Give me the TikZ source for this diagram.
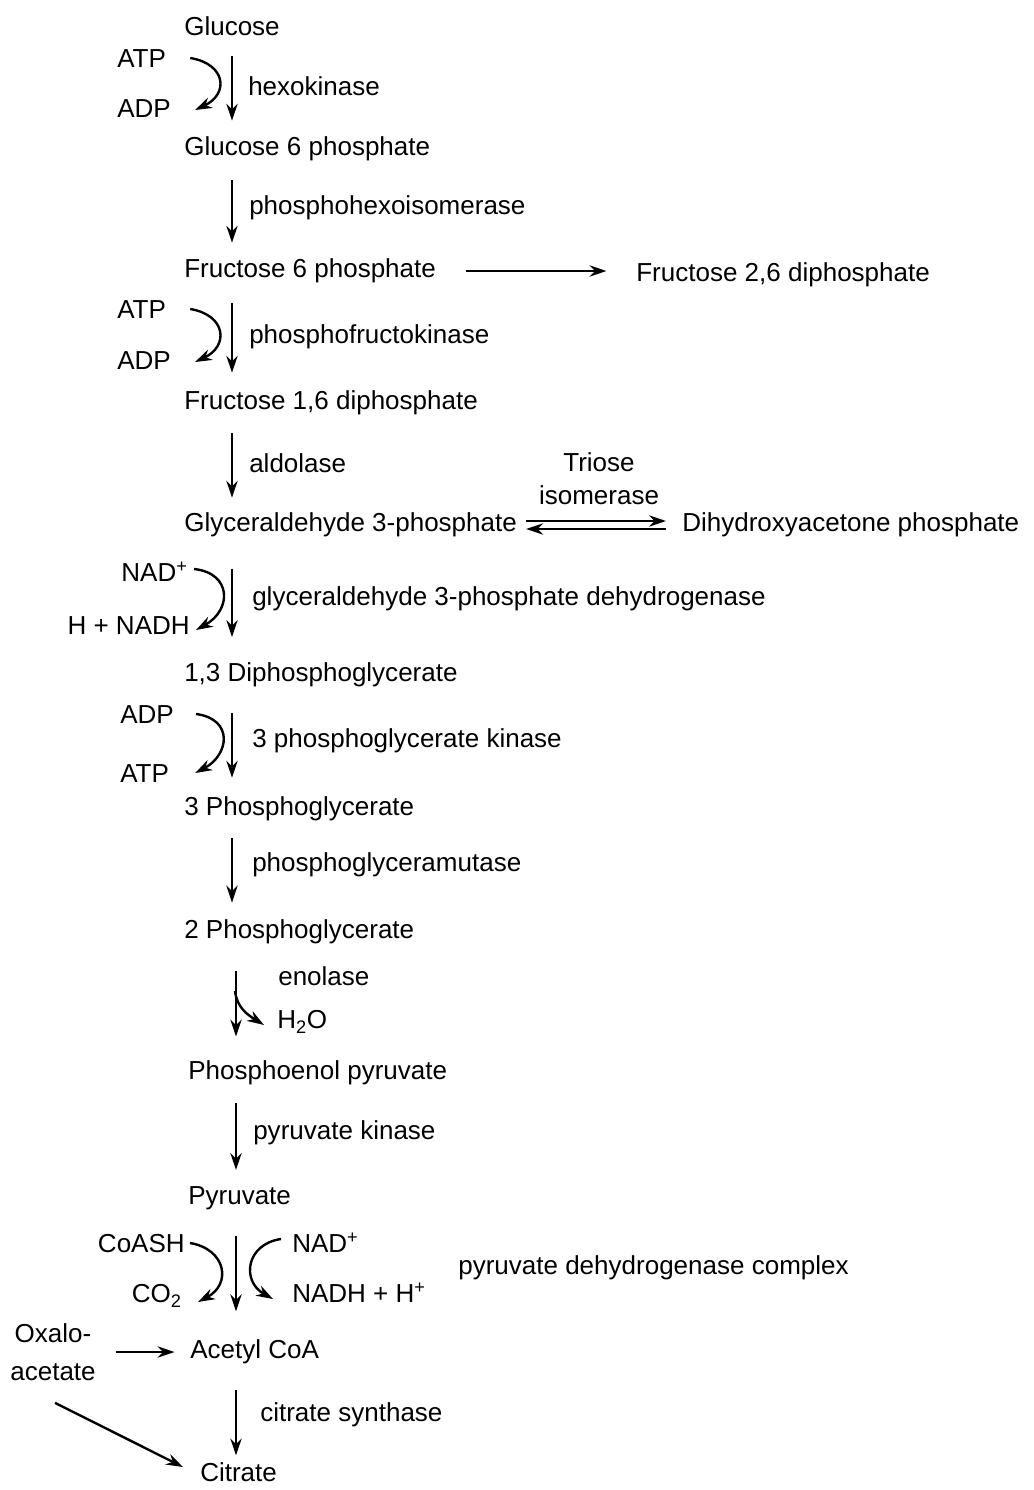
\documentclass[tikz,border=0pt]{standalone}
\usepackage{fontspec}
\setmainfont{Liberation Sans}
\usetikzlibrary{arrows.meta,positioning,calc}

\tikzset{
  met/.style={anchor=west,inner sep=0pt,text height=13.5pt,text depth=4pt},
  enz/.style={anchor=west,inner sep=0pt},
  cof/.style={inner sep=0pt,text height=13.5pt,text depth=4pt},
  rxn/.style={-{Stealth[length=12pt,width=8pt]},line width=1.7pt},
}

\begin{document}
\begin{tikzpicture}[x=0.025cm,y=-0.025cm,font=\fontsize{18.5}{21}\selectfont]
  \useasboundingbox (0,0) rectangle (1033,1490);
  \begin{scope}[shift={(0,3)}]

  % ---- Metabolites ------------------------------------------
  \node[met] (glc)   at (184,26)   {Glucose};
  \node[met] (g6p)   at (184,146)  {Glucose 6 phosphate};
  \node[met] (f6p)   at (184,268)  {Fructose 6 phosphate};
  \node[met] (f26bp) at (636,272)  {Fructose 2,6 diphosphate};
  \node[met] (f16bp) at (184,400)  {Fructose 1,6 diphosphate};
  \node[met] (gap)   at (184,522)  {Glyceraldehyde 3-phosphate};
  \node[met] (dhap)  at (682,522)  {Dihydroxyacetone phosphate};
  \node[met] (bpg)   at (184,672)  {1,3 Diphosphoglycerate};
  \node[met] (pg3)   at (184,806)  {3 Phosphoglycerate};
  \node[met] (pg2)   at (184,929)  {2 Phosphoglycerate};
  \node[met] (pep)   at (188,1070) {Phosphoenol pyruvate};
  \node[met] (pyr)   at (188,1195) {Pyruvate};
  \node[met] (acoa)  at (190,1349) {Acetyl CoA};
  \node[met] (cit)   at (200,1472) {Citrate};
  \node[inner sep=0pt,align=center,font=\fontsize{18.5}{27}\selectfont]
    (oaa) at (53,1349) {Oxalo-\\acetate};

  % ---- Enzymes ----------------------------------------------
  \node[enz] (hk)    at (248,83)   {hexokinase};
  \node[enz] (phi)   at (249,205)  {phosphohexoisomerase};
  \node[enz] (pfk)   at (249,334)  {phosphofructokinase};
  \node[enz] (ald)   at (249,460)  {aldolase};
  \node[inner sep=0pt,align=center,font=\fontsize{18.5}{23.5}\selectfont]
    (tim) at (599,476) {Triose\\isomerase};
  \node[enz] (gapdh) at (252,596)  {glyceraldehyde 3-phosphate dehydrogenase};
  \node[enz] (pgk)   at (252,738)  {3 phosphoglycerate kinase};
  \node[enz] (pgm)   at (252,862)  {phosphoglyceramutase};
  \node[enz] (eno)   at (278,973)  {enolase};
  \node[enz] (pk)    at (253,1130) {pyruvate kinase};
  \node[enz] (pdh)   at (458,1265) {pyruvate dehydrogenase complex};
  \node[enz] (cs)    at (260,1412) {citrate synthase};

  % ---- Cofactors --------------------------------------------
  \node[cof,anchor=west] (atpa)  at (117,58)   {ATP};
  \node[cof,anchor=west] (adpa)  at (117,108)  {ADP};
  \node[cof,anchor=west] (atpb)  at (117,309)  {ATP};
  \node[cof,anchor=west] (adpb)  at (117,360)  {ADP};
  \node[cof,anchor=east] (nada)  at (188,572)  {NAD\textsuperscript{+}};
  \node[cof,anchor=east] (nadha) at (190,625)  {H + NADH};
  \node[cof,anchor=west] (adpc)  at (120,714)  {ADP};
  \node[cof,anchor=west] (atpc)  at (120,773)  {ATP};
  \node[cof,anchor=west] (water) at (277,1019) {H\textsubscript{2}O};
  \node[cof,anchor=east] (coash) at (185,1243) {CoASH};
  \node[cof,anchor=east] (co2)   at (182,1293) {CO\textsubscript{2}};
  \node[cof,anchor=west] (nadb)  at (292,1243) {NAD\textsuperscript{+}};
  \node[cof,anchor=west] (nadhb) at (292,1293) {NADH + H\textsuperscript{+}};

  % ---- Main pathway arrows ----------------------------------
  \coordinate (ax)  at (232,0);
  \coordinate (axb) at (236,0);
  \draw[rxn,shorten <=10.5pt,shorten >=11.2pt] (glc.south -| ax) -- (g6p.north -| ax);
  \draw[rxn,shorten <=13pt,shorten >=11.2pt] (g6p.south -| ax) -- (f6p.north -| ax);
  \draw[rxn,shorten <=14pt,shorten >=12.6pt] (f6p.south -| ax) -- (f16bp.north -| ax);
  \draw[rxn,shorten <=12.6pt,shorten >=10.5pt] (f16bp.south -| ax) -- (gap.north -| ax);
  \draw[rxn,shorten <=22pt,shorten >=18pt] (gap.south -| ax) -- (bpg.north -| ax);
  \draw[rxn,shorten <=18pt,shorten >=13.3pt] (bpg.south -| ax) -- (pg3.north -| ax);
  \draw[rxn,shorten <=12pt,shorten >=12pt] (pg3.south -| ax) -- (pg2.north -| ax);
  \draw[rxn,shorten <=19pt,shorten >=17pt] (pg2.south -| axb) -- (pep.north -| axb);
  \draw[rxn,shorten <=12.6pt,shorten >=11pt] (pep.south -| axb) -- (pyr.north -| axb);
  \draw[rxn,shorten <=18pt,shorten >=20pt] (pyr.south -| axb) -- (acoa.north -| axb);
  \draw[rxn,shorten <=18pt,shorten >=5pt] (acoa.south -| axb) -- (cit.north -| axb);

  % ---- Side arrows ------------------------------------------
  \draw[rxn,shorten <=21pt,shorten >=21pt] (f6p.east) -- (f6p.east -| f26bp.west);
  \draw[rxn] ([shift={(9,-4)}]gap.east) -- ([shift={(-16,-4)}]dhap.west);
  \draw[rxn] ([shift={(-16,4)}]dhap.west) -- ([shift={(9,4)}]gap.east);
  \draw[rxn,shorten <=14pt,shorten >=11pt] (oaa.east) -- (acoa.west);
  \draw[rxn] ([shift={(2,22)}]oaa.south) -- ([shift={(-17,-8)}]cit.west);

  % ---- Cofactor curves --------------------------------------
  \draw[rxn] ([shift={(24,-3)}]atpa.east) .. controls +(36,6) and +(34,-16) .. ([shift={(24,-1)}]adpa.east);
  \draw[rxn] ([shift={(24,-3)}]atpb.east) .. controls +(36,6) and +(34,-16) .. ([shift={(24,-1)}]adpb.east);
  \draw[rxn] ([shift={(6,-6)}]nada.east) .. controls +(38,4) and +(36,-20) .. ([shift={(6,2)}]nadha.east);
  \draw[rxn] ([shift={(22,-3)}]adpc.east) .. controls +(38,5) and +(34,-18) .. ([shift={(26,-3)}]atpc.east);
  \coordinate (enob) at (235,988);
  \draw[rxn] (enob) .. controls (237,1005) and (248,1012) .. ([shift={(-13,3)}]water.west);
  \draw[rxn] ([shift={(5,-3)}]coash.east) .. controls +(36,6) and +(34,-18) .. ([shift={(16,6)}]co2.east);
  \draw[rxn] ([shift={(-11,-7)}]nadb.west) .. controls +(-35,5) and +(-32,-18) .. ([shift={(-19,3)}]nadhb.west);

  \end{scope}
\end{tikzpicture}
\end{document}
